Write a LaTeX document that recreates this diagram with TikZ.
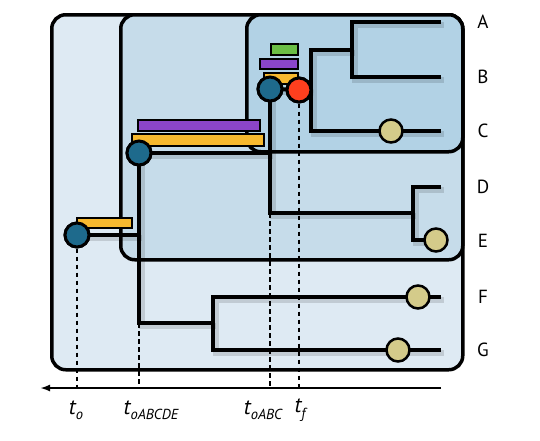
\documentclass[tikz,border=0pt]{standalone}
\usepackage{fontspec}
\setmainfont{PT Sans}
\usetikzlibrary{arrows.meta}

\definecolor{outer blue}{HTML}{DEEAF3}
\definecolor{middle blue}{HTML}{C6DCEA}
\definecolor{inner blue}{HTML}{B2D2E5}
\definecolor{anc blue}{HTML}{1E6A8C}
\definecolor{tf red}{HTML}{FF3F1E}
\definecolor{sample tan}{HTML}{D4CB8A}
\definecolor{bar orange}{HTML}{F7B92F}
\definecolor{bar purple}{HTML}{8B45C9}
\definecolor{bar green}{HTML}{6BBE45}

\newcommand{\tsub}[1]{\raisebox{-0.25em}{\fontsize{14.5pt}{16pt}\selectfont #1}}

\begin{document}
\begin{tikzpicture}[x=1pt, y=-1pt,
  clade box/.style={draw, line width=3.5pt, rounded corners=14pt, anchor=north west, inner sep=0pt},
  branch/.style={line width=4pt, preaction={draw=black, opacity=0.13, line width=6pt, transform canvas={shift={(2.5pt,-2.5pt)}}}},
  bar/.style={draw, line width=2pt},
  anc node/.style={circle, draw, line width=3pt, fill=anc blue, minimum size=24pt, inner sep=0pt},
  tf node/.style={circle, draw, line width=3pt, fill=tf red, minimum size=24pt, inner sep=0pt},
  sample node/.style={circle, draw, line width=2.5pt, fill=sample tan, minimum size=23pt, inner sep=0pt},
  time line/.style={line width=2.5pt, dash pattern=on 4.5pt off 3.5pt},
  axis line/.style={line width=2pt, -{Latex[length=10pt, width=7pt]}},
  leaf label/.style={font=\fontsize{19pt}{22pt}\selectfont},
  time label/.style={font=\fontsize{22pt}{24pt}\selectfont\itshape}]
\useasboundingbox (0,0) rectangle (540,440);

% nested clades
\node[clade box, fill=outer blue, minimum width=411pt, minimum height=355pt] (all box) at (50,13) {};
\node[clade box, fill=middle blue, minimum width=342pt, minimum height=245pt] (ABCDE box) at (119,13) {};
\node[clade box, fill=inner blue, minimum width=216pt, minimum height=137pt] (ABC box) at (245,13) {};

\coordinate (leaf A) at (441,22);
\coordinate (leaf B) at (441,77);
\coordinate (leaf C) at (441,131);
\coordinate (leaf D) at (441,187);
\coordinate (leaf E) at (436,240);
\coordinate (leaf F) at (441,297);
\coordinate (leaf G) at (441,350);
\coordinate (AB) at (352,50);
\coordinate (ABC) at (311,90);
\coordinate (DE) at (413,213);
\coordinate (FG) at (213,323);
\coordinate (axis right) at (441,388);
\coordinate (axis left) at (40,388);

\node[anc node] (root) at (77,235) {};
\node[anc node] (ABCDE anc) at (139,153) {};
\node[anc node] (ABC anc) at (270,89) {};
\node[tf node] (tf) at (299,90) {};

% tree
\draw[branch] (root.center) -- (root.center -| ABCDE anc.center);
\draw[branch] (ABCDE anc.center) |- (FG);
\draw[branch] (FG) |- (leaf F) (FG) |- (leaf G);
\draw[branch] (ABCDE anc.center) -- (ABCDE anc.center -| ABC anc.center);
\draw[branch] (ABC anc.center) |- (DE);
\draw[branch] (DE) |- (leaf D) (DE) |- (leaf E);
\draw[branch] (ABC anc.center) -- (ABC);
\draw[branch] (ABC) |- (AB) (ABC) |- (leaf C);
\draw[branch] (AB) |- (leaf A) (AB) |- (leaf B);

% age bars
\draw[bar, fill=bar orange] (77,218) rectangle (132,228);
\draw[bar, fill=bar purple] (138,120) rectangle (260,131);
\draw[bar, fill=bar orange] (132,134) rectangle (264,146);
\draw[bar, fill=bar green] (271,44) rectangle (298,55);
\draw[bar, fill=bar purple] (260,59) rectangle (298,69);
\draw[bar, fill=bar orange] (264,73) rectangle (298,84);

% nodes on top
\node[anc node] at (root) {};
\node[anc node] at (ABCDE anc) {};
\node[anc node] at (ABC anc) {};
\node[tf node] at (tf) {};
\node[sample node] (C sample) at (391,131) {};
\node[sample node] (E sample) at (436,240) {};
\node[sample node] (F sample) at (418,297) {};
\node[sample node] (G sample) at (398,350) {};

% time axis
\draw[time line] (root) -- (root |- axis right);
\draw[time line] (ABCDE anc |- FG) -- (ABCDE anc |- axis right);
\draw[time line] (ABC anc |- DE) -- (ABC anc |- axis right);
\draw[time line] (tf) -- (tf |- axis right);
\draw[axis line] (axis right) -- (axis left);

\node[leaf label] (A label) at (483,22) {A};
\node[leaf label] (B label) at (483,77) {B};
\node[leaf label] (C label) at (483,131) {C};
\node[leaf label] (D label) at (483,187) {D};
\node[leaf label] (E label) at (483,241) {E};
\node[leaf label] (F label) at (483,297) {F};
\node[leaf label] (G label) at (483,350) {G};

\node[time label] (to label) at (76,410) {t\tsub{o}};
\node[time label] (tABCDE label) at (151,410) {t\tsub{oABCDE}};
\node[time label] (tABC label) at (263,410) {t\tsub{oABC}};
\node[time label] (tf label) at (300,410) {t\tsub{f}};
\end{tikzpicture}
\end{document}
